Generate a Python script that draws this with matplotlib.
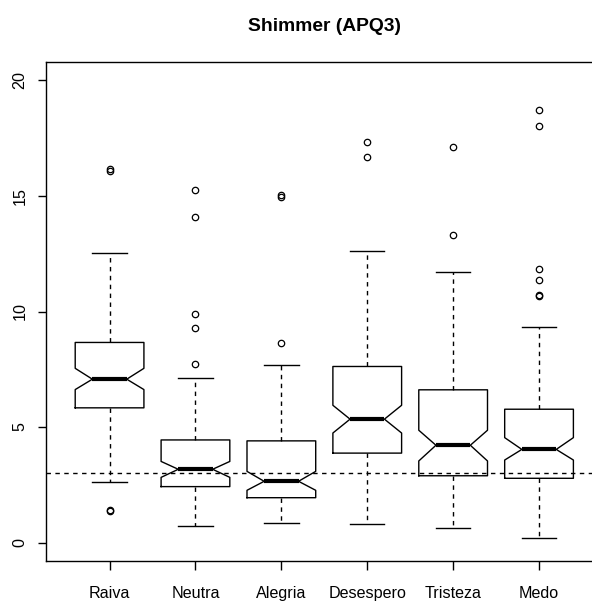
import matplotlib
matplotlib.use("Agg")
import matplotlib.pyplot as plt

categories = ["Raiva", "Neutra", "Alegria", "Desespero", "Tristeza", "Medo"]
medians   = [7.07, 3.17, 2.65, 5.34, 4.21, 4.03]
q1        = [5.83, 2.42, 1.94, 3.87, 2.89, 2.78]
q3        = [8.66, 4.44, 4.40, 7.62, 6.61, 5.77]
whis_lo   = [2.60, 0.72, 0.85, 0.81, 0.65, 0.20]
whis_hi   = [12.55, 7.14, 7.67, 12.62, 11.73, 9.33]
notch_lo  = [6.62, 2.82, 2.26, 4.74, 3.53, 3.57]
notch_hi  = [7.54, 3.51, 3.08, 5.94, 4.86, 4.54]
outliers  = [
    [16.10, 16.18, 1.35, 1.42],
    [15.26, 14.11, 9.88, 9.27, 7.74],
    [15.05, 14.95, 8.62],
    [17.35, 16.69],
    [17.12, 13.29],
    [18.74, 18.03, 11.84, 11.37, 10.72, 10.67],
]
ref_level = 3.0
yticks = [0, 5, 10, 15, 20]
title = "Shimmer (APQ3)"

plt.rcParams['font.family'] = ['Liberation Sans', 'DejaVu Sans']

W, H = 592, 601
fig = plt.figure(figsize=(W / 100, H / 100), dpi=100)
ax = fig.add_axes([46 / W, (H - 561) / H, (602.6 - 46) / W, (561 - 62) / H])

stats = []
for i, name in enumerate(categories):
    stats.append(dict(label=name, med=medians[i], q1=q1[i], q3=q3[i],
                      whislo=whis_lo[i], whishi=whis_hi[i],
                      cilo=notch_lo[i], cihi=notch_hi[i],
                      fliers=outliers[i]))

dash = (0, (3.2, 3.2))
ax.bxp(stats, positions=range(1, len(categories) + 1), widths=0.8,
       shownotches=True, showfliers=True, patch_artist=False,
       boxprops=dict(color='black', linewidth=1.0),
       whiskerprops=dict(color='black', linewidth=1.0, linestyle=dash),
       capprops=dict(color='black', linewidth=1.0),
       medianprops=dict(color='black', linewidth=3.0, solid_capstyle='butt'),
       flierprops=dict(marker='o', markerfacecolor='none', markeredgecolor='black',
                       markersize=4.6, markeredgewidth=0.9, linestyle='none'))

ax.axhline(ref_level, color='black', linewidth=1.0, linestyle=dash)

ax.set_xlim(0.26, 6.74)
ax.set_ylim(-0.8, 20.8)
ax.set_yticks(yticks)
ax.set_yticklabels([str(v) for v in yticks], rotation=90, va='center')
ax.set_xticks(range(1, len(categories) + 1))
ax.set_xticklabels(categories)

for s in ax.spines.values():
    s.set_linewidth(1.0)
    s.set_color('black')

ax.tick_params(axis='x', length=6.5, width=1.0, pad=11.5, labelsize=11.6, direction='out')
ax.tick_params(axis='y', length=6.0, width=1.0, pad=7.5, labelsize=11.6, direction='out')

fig.text((46 + 602.6) / 2 / W, 1 - 31 / H, title, ha='center', va='baseline',
         fontsize=13.9, fontweight='bold')

fig.savefig("out.png", dpi=100)
